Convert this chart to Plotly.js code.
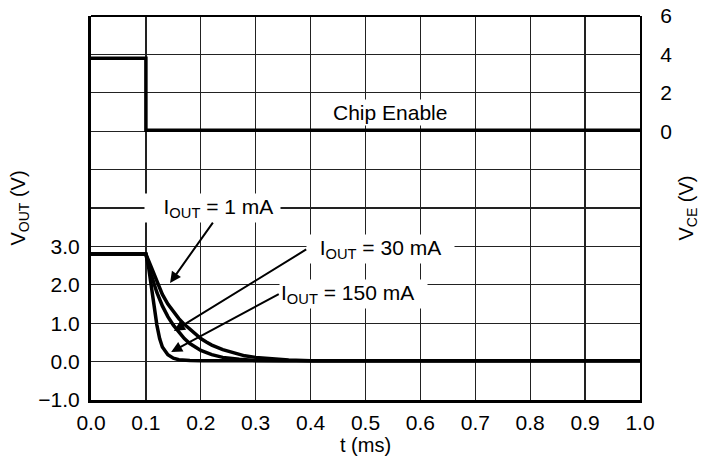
<!DOCTYPE html>
<html>
<head>
<meta charset="utf-8">
<script src="https://cdn.plot.ly/plotly-3.0.1.min.js"></script>
<style>html,body{margin:0;padding:0;background:#fff;}#chart{width:701px;height:461px;}</style>
</head>
<body>
<div id="chart"></div>
<script>
// Chip enable signal (right axis, V)
const tChipEnable = [0, 0.1, 0.1, 1.0];
const vChipEnable = [3.8, 3.8, 0.05, 0.05];

// VOUT discharge curves (left axis, V)
const t1mA = [0, 0.1, 0.11, 0.12, 0.13, 0.14, 0.15, 0.16, 0.17, 0.18, 0.19, 0.2, 0.21, 0.22, 0.24, 0.26, 0.28, 0.3, 0.33, 0.36, 0.4, 1.0];
const v1mA = [2.8, 2.8, 2.45, 2.1, 1.75, 1.5, 1.3, 1.12, 0.97, 0.84, 0.72, 0.6, 0.51, 0.43, 0.31, 0.22, 0.15, 0.11, 0.07, 0.04, 0.02, 0.02];

const t30mA = [0, 0.1, 0.11, 0.12, 0.13, 0.14, 0.15, 0.16, 0.17, 0.18, 0.19, 0.2, 0.22, 0.24, 0.27, 0.3, 0.35, 1.0];
const v30mA = [2.8, 2.8, 2.25, 1.8, 1.45, 1.17, 0.95, 0.76, 0.6, 0.47, 0.37, 0.29, 0.18, 0.11, 0.06, 0.03, 0.02, 0.02];

const t150mA = [0, 0.1, 0.105, 0.11, 0.115, 0.12, 0.125, 0.13, 0.14, 0.15, 0.16, 0.18, 0.2, 1.0];
const v150mA = [2.8, 2.8, 2.45, 2.0, 1.45, 0.95, 0.6, 0.38, 0.18, 0.09, 0.05, 0.03, 0.02, 0.02];

// Tick labels
const xTickVals = [0, 0.1, 0.2, 0.3, 0.4, 0.5, 0.6, 0.7, 0.8, 0.9, 1.0];
const xTickText = ["0.0", "0.1", "0.2", "0.3", "0.4", "0.5", "0.6", "0.7", "0.8", "0.9", "1.0"];
const yTickVals = [-1, 0, 1, 2, 3];
const yTickText = ["\u22121.0", "0.0", "1.0", "2.0", "3.0"];
const yGridOnlyVals = [4, 5, 6, 7, 8, 9];
const y2TickVals = [0, 2, 4, 6];
const y2TickText = ["0", "2", "4", "6"];

const FONT = "Liberation Sans, Arial, Helvetica, sans-serif";
const FS = 21;
const lineStyle = {color: "#000", width: 3.5};
const GRID = "#222";

const traces = [
  {x: tChipEnable, y: vChipEnable, yaxis: "y2", mode: "lines", line: lineStyle, name: "Chip Enable"},
  {x: t1mA, y: v1mA, mode: "lines", line: lineStyle, name: "IOUT = 1 mA"},
  {x: t30mA, y: v30mA, mode: "lines", line: lineStyle, name: "IOUT = 30 mA"},
  {x: t150mA, y: v150mA, mode: "lines", line: lineStyle, name: "IOUT = 150 mA"}
];

const n1 = "\u00a0", n2 = "\u00a0\u00a0", n3 = "\u00a0\u00a0\u00a0";
const arrowProps = {showarrow: true, arrowhead: 2, arrowsize: 1.1, arrowwidth: 2, arrowcolor: "#000",
  axref: "x", ayref: "y", xref: "x", yref: "y", bgcolor: "#fff", borderpad: 1,
  font: {family: FONT, size: FS, color: "#000"}};

const layout = {
  width: 701, height: 461,
  margin: {l: 91, r: 61, t: 16, b: 61},
  paper_bgcolor: "#fff", plot_bgcolor: "#fff",
  showlegend: false,
  font: {family: FONT, size: FS, color: "#000"},
  xaxis: {
    range: [0, 1], tickvals: xTickVals, ticktext: xTickText,
    showgrid: true, gridcolor: GRID, gridwidth: 1.2,
    showline: true, linecolor: "#000", linewidth: 3,
    zeroline: false, ticks: "", ticklabelstandoff: 2,
    tickfont: {family: FONT, size: FS},
    title: {text: "t (ms)", font: {family: FONT, size: FS - 1}, standoff: 3}
  },
  yaxis: {
    range: [-1, 9], tickvals: yTickVals, ticktext: yTickText,
    showgrid: true, gridcolor: GRID, gridwidth: 1.2,
    minor: {tickvals: yGridOnlyVals, showgrid: true, gridcolor: GRID, gridwidth: 1.2, ticks: ""},
    showline: true, linecolor: "#000", linewidth: 3,
    zeroline: false, ticks: "", ticklabelstandoff: 4,
    tickfont: {family: FONT, size: FS},
    title: {text: "V<sub>OUT</sub> (V)", font: {family: FONT, size: FS - 1}, standoff: 8}
  },
  yaxis2: {
    range: [-14, 6], tickvals: y2TickVals, ticktext: y2TickText,
    overlaying: "y", side: "right",
    showgrid: false, showline: true, linecolor: "#000", linewidth: 2,
    zeroline: false, ticks: "", ticklabelstandoff: 14,
    tickfont: {family: FONT, size: FS},
    title: {text: "V<sub>CE</sub> (V)", font: {family: FONT, size: FS - 1}, standoff: 8}
  },
  shapes: [
    {type: "line", xref: "paper", yref: "paper", x0: 0, x1: 1, y0: 1, y1: 1, line: {color: "#000", width: 2}}
  ],
  annotations: [
    Object.assign({}, arrowProps, {x: 0.144, y: 2.05, ax: 0.222, ay: 3.62,
      text: n3 + "I<sub>OUT</sub> = 1 mA" + n1, xanchor: "center", yanchor: "bottom"}),
    Object.assign({}, arrowProps, {x: 0.151, y: 0.80, ax: 0.392, ay: 2.92,
      text: n2 + "I<sub>OUT</sub> = 30 mA" + n2, xanchor: "left", yanchor: "middle"}),
    Object.assign({}, arrowProps, {x: 0.146, y: 0.25, ax: 0.342, ay: 1.76,
      text: "I<sub>OUT</sub> = 150 mA" + n2, xanchor: "left", yanchor: "middle"}),
    {x: 0.545, y: 6.5, xref: "x", yref: "y", text: "Chip Enable", showarrow: false,
      bgcolor: "#fff", borderpad: 1, font: {family: FONT, size: FS, color: "#000"}}
  ]
};

Plotly.newPlot("chart", traces, layout, {staticPlot: true, displayModeBar: false});
</script>
</body>
</html>
